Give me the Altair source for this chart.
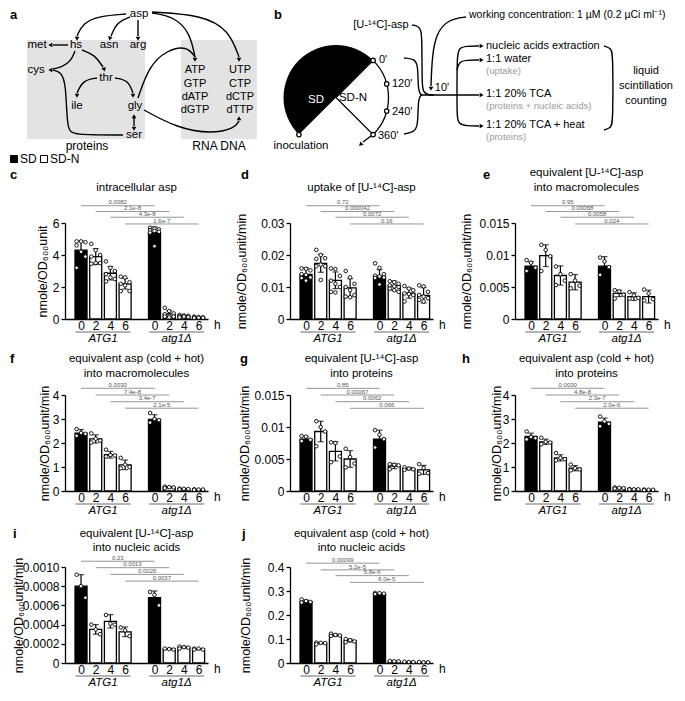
import altair as alt
import pandas as pd

FONT = "Liberation Sans"
W, H = 143, 96
XMIN, XMAX = -0.75, 8.3
GAP_COL, GAP_ROW = 82, 76
C_LEFT, C_TOP = 55, 214

# ---------------- data ----------------
times = [0, 2, 4, 6]
strains = ["ATG1", "atg1Δ"]
media = ["SD", "SD-N", "SD-N", "SD-N"]

c_mean = [4.3, 3.9, 2.86, 2.2, 5.4, 0.32, 0.18, 0.1]
c_sd = [0.56, 0.5, 0.42, 0.33, 0.36, 0.2, 0.05, 0.03]
c_pts = [[4.85, 4.85, 4.8, 4.6, 4.2, 3.9, 3.2], [4.7, 4.3, 4.0, 3.9, 3.5, 3.5, 3.45],
         [3.6, 3.2, 3.0, 2.8, 2.6, 2.5, 2.35], [2.65, 2.6, 2.3, 2.2, 2.1, 1.75, 1.75],
         [5.7, 5.65, 5.6, 5.55, 5.5, 5.45, 5.4, 4.55], [0.7, 0.5, 0.35, 0.3, 0.2, 0.15, 0.15, 0.1],
         [0.25, 0.22, 0.2, 0.18, 0.15, 0.12, 0.1], [0.15, 0.12, 0.1, 0.1, 0.08, 0.08, 0.07]]
c_p = ["0.0082", "2.1e-8", "4.3e-8", "1.6e-7"]
c_lvl = [7.08, 6.72, 6.36, 5.94]

d_mean = [0.0139, 0.0174, 0.0121, 0.0097, 0.0134, 0.0104, 0.0081, 0.0074]
d_sd = [0.0021, 0.0028, 0.0026, 0.0029, 0.002, 0.0015, 0.0016, 0.0024]
d_pts = [[0.0158, 0.0157, 0.0152, 0.0140, 0.0138, 0.0130, 0.0128, 0.0120],
         [0.0216, 0.0200, 0.0190, 0.0188, 0.0170, 0.0165, 0.0165, 0.0122],
         [0.0158, 0.0156, 0.0135, 0.0120, 0.0110, 0.0100, 0.0085, 0.0083],
         [0.0150, 0.0130, 0.0110, 0.0100, 0.0090, 0.0075, 0.0070, 0.0068],
         [0.0174, 0.0160, 0.0140, 0.0135, 0.0133, 0.0130, 0.0128, 0.0108],
         [0.0118, 0.0115, 0.0110, 0.0105, 0.0102, 0.0100, 0.0095, 0.0090, 0.0085],
         [0.0103, 0.0095, 0.0090, 0.0080, 0.0078, 0.0075, 0.0055],
         [0.0105, 0.0102, 0.0085, 0.0075, 0.0070, 0.0065, 0.0060, 0.0055]]
d_p = ["0.72", "0.000042", "0.0072", "0.16"]
d_lvl = [0.0354, 0.0336, 0.0318, 0.0297]

e_mean = [0.00825, 0.0099, 0.0068, 0.00575, 0.00825, 0.004, 0.0035, 0.0035]
e_sd = [0.0007, 0.0017, 0.0015, 0.0012, 0.0015, 0.0005, 0.0006, 0.001]
e_pts = [[0.0092, 0.0088, 0.0080, 0.0075], [0.0116, 0.0108, 0.0098, 0.0075],
         [0.0082, 0.0070, 0.0060, 0.0053], [0.0070, 0.0060, 0.0052, 0.0048],
         [0.0096, 0.0090, 0.0081, 0.0069], [0.0045, 0.0043, 0.0038, 0.0032],
         [0.0042, 0.0037, 0.0033, 0.0032], [0.0046, 0.0040, 0.0031, 0.0029]]
e_p = ["0.95", "0.00068", "0.0058", "0.024"]
e_lvl = [0.0177, 0.0168, 0.0159, 0.01485]

f_mean = [2.41, 2.17, 1.51, 1.09, 2.98, 0.15, 0.08, 0.06]
f_sd = [0.15, 0.17, 0.14, 0.2, 0.2, 0.03, 0.015, 0.01]
f_pts = [[2.58, 2.42, 2.38, 2.3], [2.4, 2.18, 2.1, 2.02], [1.72, 1.5, 1.48, 1.44], [1.38, 1.1, 1.0, 0.95],
         [3.25, 3.0, 2.95, 2.85], [0.18, 0.16, 0.15, 0.12], [0.1, 0.09, 0.08, 0.07], [0.07, 0.06, 0.06, 0.05]]
f_p = ["0.0030", "7.4e-8", "3.4e-7", "2.1e-5"]
f_lvl = [4.28, 4.0, 3.72, 3.45]

g_mean = [0.0081, 0.0093, 0.0062, 0.005, 0.0081, 0.0039, 0.0035, 0.0033]
g_sd = [0.0004, 0.0016, 0.0015, 0.0013, 0.0014, 0.0004, 0.0002, 0.0007]
g_pts = [[0.0086, 0.0085, 0.0080, 0.0078], [0.0109, 0.0100, 0.0093, 0.0070],
         [0.0076, 0.0075, 0.0054, 0.0045], [0.0066, 0.0053, 0.0043, 0.0037],
         [0.0095, 0.0088, 0.0081, 0.0068], [0.0042, 0.0041, 0.0040, 0.0034],
         [0.0037, 0.0035, 0.0034, 0.0033], [0.0042, 0.0036, 0.0028, 0.0027]]
g_p = ["0.85", "0.00067", "0.0062", "0.066"]
g_lvl = [0.01604, 0.015, 0.01396, 0.01292]

h_mean = [2.27, 2.05, 1.38, 0.95, 2.87, 0.12, 0.07, 0.05]
h_sd = [0.14, 0.11, 0.13, 0.11, 0.17, 0.02, 0.01, 0.01]
h_pts = [[2.48, 2.25, 2.2, 2.15], [2.22, 2.05, 2.02, 1.95], [1.58, 1.38, 1.33, 1.28], [1.1, 0.95, 0.9, 0.86],
         [3.1, 2.9, 2.8, 2.7], [0.15, 0.13, 0.12, 0.1], [0.08, 0.07, 0.07, 0.06], [0.06, 0.05, 0.05, 0.04]]
h_p = ["0.0030", "4.8e-8", "2.3e-7", "2.0e-6"]
h_lvl = [4.28, 4.0, 3.72, 3.45]

i_mean = [0.0008, 0.00035, 0.000434, 0.000325, 0.00068, 0.000146, 0.000163, 0.000145]
i_sd = [0.00012, 0.00005, 0.00007, 0.00005, 0.00007, 0.000006, 0.00001, 0.000006]
i_pts = [[0.00092, 0.00080, 0.00068], [0.00040, 0.00035, 0.00030], [0.00050, 0.00041, 0.00040],
         [0.00037, 0.00034, 0.00028], [0.00074, 0.00071, 0.00060], [0.000150, 0.000145, 0.000140],
         [0.00017, 0.000165, 0.00016, 0.00015], [0.00015, 0.00015, 0.00014, 0.00014]]
i_p = ["0.23", "0.0013", "0.0026", "0.0037"]
i_lvl = [0.00106, 0.000993, 0.000923, 0.000853]

j_mean = [0.256, 0.0827, 0.116, 0.0933, 0.289, 0.007, 0.004, 0.003]
j_sd = [0.006, 0.003, 0.004, 0.006, 0.002, 0.001, 0.001, 0.001]
j_pts = [[0.265, 0.258, 0.254, 0.252], [0.085, 0.084, 0.083, 0.078], [0.122, 0.117, 0.115, 0.113],
         [0.100, 0.095, 0.090, 0.087], [0.292, 0.291, 0.289, 0.287], [0.008, 0.007, 0.007],
         [0.005, 0.004, 0.004], [0.004, 0.003, 0.003]]
j_p = ["0.00099", "5.2e-5", "5.8e-6", "6.0e-5"]
j_lvl = [0.416, 0.388, 0.364, 0.336]

YL1 = "nmole/OD₆₀₀unit"
YL2 = "nmole/OD₆₀₀unit/min"
T_U = "equivalent [U-¹⁴C]-asp"
T_C = "equivalent asp (cold + hot)"

panels = [
    dict(k="c", mean=c_mean, sd=c_sd, pts=c_pts, p=c_p, lvl=c_lvl, ymax=6, ticks=[0, 2, 4, 6], fmt="~g",
         ylab=YL1, title=["intracellular asp"]),
    dict(k="d", mean=d_mean, sd=d_sd, pts=d_pts, p=d_p, lvl=d_lvl, ymax=0.03, ticks=[0, 0.01, 0.02, 0.03], fmt="~g",
         ylab=YL2, title=["uptake of [U-¹⁴C]-asp"]),
    dict(k="e", mean=e_mean, sd=e_sd, pts=e_pts, p=e_p, lvl=e_lvl, ymax=0.015, ticks=[0, 0.005, 0.01, 0.015], fmt="~g",
         ylab=YL2, title=[T_U, "into macromolecules"]),
    dict(k="f", mean=f_mean, sd=f_sd, pts=f_pts, p=f_p, lvl=f_lvl, ymax=4, ticks=[0, 1, 2, 3, 4], fmt="~g",
         ylab=YL2, title=[T_C, "into macromolecules"]),
    dict(k="g", mean=g_mean, sd=g_sd, pts=g_pts, p=g_p, lvl=g_lvl, ymax=0.015, ticks=[0, 0.005, 0.01, 0.015], fmt="~g",
         ylab=YL2, title=[T_U, "into proteins"]),
    dict(k="h", mean=h_mean, sd=h_sd, pts=h_pts, p=h_p, lvl=h_lvl, ymax=4, ticks=[0, 1, 2, 3, 4], fmt="~g",
         ylab=YL2, title=[T_C, "into proteins"]),
    dict(k="i", mean=i_mean, sd=i_sd, pts=i_pts, p=i_p, lvl=i_lvl, ymax=0.001,
         ticks=[0, 0.0002, 0.0004, 0.0006, 0.0008, 0.001], fmt=".4f",
         ylab=YL2, title=[T_U, "into nucleic acids"]),
    dict(k="j", mean=j_mean, sd=j_sd, pts=j_pts, p=j_p, lvl=j_lvl, ymax=0.4, ticks=[0, 0.1, 0.2, 0.3, 0.4], fmt="~g",
         ylab=YL2, title=[T_C, "into nucleic acids"]),
]

# layout of annotations per panel (pixels relative to plot area)
letter_x = {"c": -55, "d": -49, "e": -32, "f": -55, "g": -50, "h": -53, "i": -52, "j": -48}
row_of = {"c": 0, "d": 0, "e": 0, "f": 1, "g": 1, "h": 1, "i": 2, "j": 2}
letter_y = [-48, -36, -33]
title_y1 = [[-35], [-36], [-33]]
title_y2 = [[-50, -35], [-36, -21], [-33, -19]]
ytitle_x = {"c": -16, "d": -42, "e": -42, "f": -14, "g": -39, "h": -12, "i": -40, "j": -38}

# ---------------- panel construction ----------------
def bar_pos(idx):
    return (idx // 4) * 5 + idx % 4

XS = alt.Scale(domain=[XMIN, XMAX], nice=False, zero=False)
XAX = alt.Axis(values=[0, 1, 2, 3, 5, 6, 7, 8],
               labelExpr="datum.value < 4 ? '' + datum.value * 2 : '' + (datum.value - 5) * 2",
               title=None, ticks=False, tickSize=0, grid=False, labelFontSize=12, labelPadding=1,
               labelFlush=False, labelOverlap=False, labelColor="black", domainColor="black", domainWidth=1.3)


def X(f):
    return alt.X(f, type="quantitative", scale=XS, axis=XAX)


def make_panel(p):
    k = p["k"]
    ys = alt.Scale(domain=[0, p["ymax"]], nice=False, zero=True)
    yax = alt.Axis(values=p["ticks"],
                   labelExpr="datum.value == 0 ? '0' : format(datum.value, '%s')" % p["fmt"],
                   title=p["ylab"], titleX=ytitle_x[k], titleY=H / 2, titleBaseline="bottom",
                   titleFontSize=12.5, titleFontWeight="normal", titleColor="black",
                   labelFontSize=12, labelColor="black", labelFlush=False, labelOverlap=False,
                   tickSize=4, tickWidth=1.3, tickColor="black", labelPadding=2,
                   domainColor="black", domainWidth=1.3, grid=False)

    def Y(f):
        return alt.Y(f, type="quantitative", scale=ys, axis=yax)

    bdf = pd.DataFrame({
        "pos": [bar_pos(i) for i in range(8)],
        "mean": p["mean"], "sd": p["sd"],
        "medium": media * 2,
    })
    rows = []
    for i, lst in enumerate(p["pts"]):
        for v in lst:
            rows.append({"pos": bar_pos(i), "v": v})
    pdf = pd.DataFrame(rows)
    brdf = pd.DataFrame({"x0": [bar_pos(i) for i in range(4)], "x1": [bar_pos(i + 4) for i in range(4)],
                         "lvl": p["lvl"], "pv": p["p"]})
    gdf = pd.DataFrame({"g": strains, "x0": [-0.38, 4.62], "x1": [3.38, 8.38], "xm": [1.5, 6.5]})

    bars = alt.Chart(bdf).mark_bar(size=12, stroke="black", strokeWidth=1.3, orient="vertical").encode(
        x=X("pos"), y=Y("mean"),
        fill=alt.Fill("medium:N", scale=alt.Scale(domain=["SD", "SD-N"], range=["black", "white"]), legend=None))
    ebase = alt.Chart(bdf).transform_calculate(lo="datum.mean - datum.sd", hi="datum.mean + datum.sd")
    err = ebase.mark_rule(color="black", strokeWidth=1.2).encode(x=X("pos"), y=Y("lo"), y2=alt.Y2("hi"))
    cap_hi = ebase.mark_tick(orient="horizontal", size=6, thickness=1.2, color="black").encode(x=X("pos"), y=Y("hi"))
    cap_lo = ebase.mark_tick(orient="horizontal", size=6, thickness=1.2, color="black").encode(x=X("pos"), y=Y("lo"))
    pts = alt.Chart(pdf).transform_window(
        rn="row_number()", groupby=["pos"], sort=[alt.SortField("v", order="descending")]
    ).transform_calculate(px="datum.pos + ((datum.rn - 1) % 3 - 1) * 0.3").mark_circle(
        size=13, fill="white", stroke="black", strokeWidth=0.9, opacity=1).encode(x=X("px"), y=Y("v"))
    brk = alt.Chart(brdf).mark_rule(color="#8a8a8a", strokeWidth=0.9).encode(
        x=X("x0"), x2=alt.X2("x1"), y=Y("lvl"))
    ptxt = alt.Chart(brdf).transform_calculate(xm="(datum.x0 + datum.x1) / 2").mark_text(
        fontSize=6, color="#555555", baseline="bottom", dy=-0.3).encode(x=X("xm"), y=Y("lvl"), text="pv:N")
    uline = alt.Chart(gdf).mark_rule(color="#6a6a6a", strokeWidth=1).encode(
        x=X("x0"), x2=alt.X2("x1"), y=alt.value(H + 13))
    glab = alt.Chart(gdf).mark_text(fontSize=11.5, fontStyle="italic", baseline="middle", color="black").encode(
        x=X("xm"), y=alt.value(H + 20), text="g:N")
    hlab = alt.Chart(pd.DataFrame({"t": ["h"]})).mark_text(
        fontSize=12, align="left", baseline="top", color="black").encode(
        x=alt.value(W + 6), y=alt.value(H + 1), text="t:N")
    r = row_of[k]
    letter = alt.Chart(pd.DataFrame({"t": [k]})).mark_text(
        fontSize=13, fontWeight="bold", align="left", baseline="middle", color="black").encode(
        x=alt.value(letter_x[k]), y=alt.value(letter_y[r]), text="t:N")
    tys = title_y1[r] if len(p["title"]) == 1 else title_y2[r]
    tlayers = []
    for line, ty in zip(p["title"], tys):
        tlayers.append(alt.Chart(pd.DataFrame({"t": [line]})).mark_text(
            fontSize=11.5, align="center", baseline="middle", color="black").encode(
            x=alt.value(W / 2), y=alt.value(ty), text="t:N"))
    return alt.layer(bars, err, cap_hi, cap_lo, pts, brk, ptxt, uline, glab, hlab, letter, *tlayers)


# ---------------- schematic panels a and b (svg coordinates) ----------------
DXS = alt.Scale(domain=[C_LEFT, C_LEFT + W], nice=False, zero=False)
DYS = alt.Scale(domain=[C_TOP, C_TOP + H], nice=False, zero=False, reverse=True)


def DX(f):
    return alt.X(f, type="quantitative", scale=DXS, axis=None)


def DY(f):
    return alt.Y(f, type="quantitative", scale=DYS, axis=None)


a_nodes = ["asp", "met", "hs", "asn", "arg", "cys", "thr", "ile", "gly", "ser"]
a_node_x = [129, 27, 66, 99, 128, 26, 96, 67, 125, 124]
a_node_y = [5, 36, 36, 36, 36, 61, 69, 97, 97, 126]
nt_left = ["ATP", "GTP", "dATP", "dGTP"]
nt_right = ["UTP", "CTP", "dCTP", "dTTP"]
nt_y = [61, 75, 88, 101]
box_names = ["proteins", "RNA DNA"]

a_paths = {
    "asp-hs": [(116, 5), (89, 7), (73, 14), (67, 27)],
    "asp-asn": [(120, 8), (107, 13), (101, 27)],
    "asp-arg": [(128, 11), (128, 27)],
    "asp-atp": [(142, 4), (165, 8), (180, 24), (185, 48)],
    "asp-utp": [(142, 3), (192, 6), (219, 21), (229, 48)],
    "hs-met": [(58, 36), (43, 36)],
    "hs-cys": [(65, 42), (61, 52), (52, 58), (43, 60)],
    "hs-thr": [(72, 41), (85, 46), (93, 58)],
    "thr-ile": [(87, 69), (73, 71), (67, 84)],
    "thr-gly": [(105, 69), (118, 71), (123, 84)],
    "gly-atp": [(128, 89), (139, 57), (157, 41), (177, 37), (185, 48)],
    "gly-dttp": [(134, 101), (167, 119), (202, 125), (225, 119), (229, 112)],
    "gly-ser": [(124, 109), (124, 117)],
    "ser-cys": [(113, 126), (63, 126), (57, 121), (56, 74), (51, 63), (43, 61)],
}
a_heads = [(67, 29, 180), (100, 29, 195), (128, 29, 180), (185, 50, 180), (229, 50, 180), (41, 36, 270),
           (41, 61, 270), (94, 60, 160), (67, 86, 180), (123, 86, 180), (229, 110, 0), (124, 108, 0),
           (124, 119, 180)]

b_paths = {
    "uasp": [(402, 16), (408, 17), (411, 21), (412, 30), (412, 75), (413, 83), (418, 86), (424, 86)],
    "main": [(412, 86), (469, 86)],
    "brace1": [(394, 49), (404, 50), (408, 55), (408, 79), (410, 85), (412, 86)],
    "brace2": [(412, 86), (410, 87), (408, 93), (408, 117), (404, 123), (394, 125)],
    "wc": [(456, 8), (439, 10), (426, 24), (422, 49), (421, 77)],
    "top": [(447, 86), (447, 47), (449, 39), (456, 37), (469, 37)],
    "water": [(447, 61), (449, 53), (456, 51), (469, 51)],
    "bot": [(447, 86), (447, 109), (449, 115), (456, 117), (469, 117)],
    "rbrace": [(594, 37), (601, 39), (603, 45), (603, 113), (601, 119), (594, 121)],
    "after": [(361, 127), (353, 133)],
}
b_heads = [(471, 86, 90), (421, 79, 180), (471, 37, 90), (471, 51, 90), (471, 117, 90), (351, 135, 225)]

pie_center = (326, 88.5)
pie_marks_x = [363.1, 376.7, 376.7, 363.1, 288.9]
pie_marks_y = [51.4, 74.9, 102.1, 125.6, 125.6]
time_labels = ["0'", "120'", "240'", "360'"]
time_lab_x = [369, 382, 382, 368]
time_lab_y = [51, 75, 103, 127]
out_black = ["nucleic acids extraction", "1:1 water", "1:1 20% TCA", "1:1 20% TCA + heat"]
out_black_y = [37, 50, 85, 116]
out_gray = ["(uptake)", "(proteins + nucleic acids)", "(proteins)"]
out_gray_y = [62, 97, 128]
lsc = ["liquid", "scintillation", "counting"]
lsc_y = [62, 77, 92]

line_rows = []
for name, pts_ in list(a_paths.items()) + list(b_paths.items()):
    for kk, (xx, yy) in enumerate(pts_):
        line_rows.append({"id": name, "k": kk, "x": xx, "y": yy})
lines_df = pd.DataFrame(line_rows)
heads_df = pd.DataFrame([{"x": h[0], "y": h[1], "ang": h[2]} for h in a_heads + b_heads])

ctext = []  # centered normal texts
for t, xx, yy in zip(a_nodes, a_node_x, a_node_y):
    ctext.append({"t": t, "x": xx, "y": yy, "fs": 11.5, "col": "black"})
for t, yy in zip(nt_left, nt_y):
    ctext.append({"t": t, "x": 185, "y": yy, "fs": 11, "col": "black"})
for t, yy in zip(nt_right, nt_y):
    ctext.append({"t": t, "x": 230, "y": yy, "fs": 11, "col": "black"})
for t, xx in zip(box_names, [77, 209]):
    ctext.append({"t": t, "x": xx, "y": 137, "fs": 12, "col": "black"})
ctext.append({"t": "[U-¹⁴C]-asp", "x": 371, "y": 16, "fs": 11, "col": "black"})
ctext.append({"t": "10'", "x": 432, "y": 79, "fs": 11, "col": "black"})
ctext.append({"t": "SD-N", "x": 343, "y": 89, "fs": 11.5, "col": "black"})
ctext.append({"t": "SD", "x": 306, "y": 91, "fs": 11.5, "col": "white"})
ctext.append({"t": "inoculation", "x": 291, "y": 137, "fs": 11.5, "col": "black"})
for t, yy in zip(lsc, lsc_y):
    ctext.append({"t": t, "x": 636, "y": yy, "fs": 11, "col": "black"})
ctext_df = pd.DataFrame(ctext)

ltext = []  # left aligned texts
for t, xx, yy in zip(time_labels, time_lab_x, time_lab_y):
    ltext.append({"t": t, "x": xx, "y": yy, "fs": 11, "col": "black"})
for t, yy in zip(out_black, out_black_y):
    ltext.append({"t": t, "x": 476, "y": yy, "fs": 11, "col": "black"})
for t, yy in zip(out_gray, out_gray_y):
    ltext.append({"t": t, "x": 476, "y": yy, "fs": 9.5, "col": "#9a9a9a"})
ltext.append({"t": "working concentration: 1 µM (0.2 µCi ml⁻¹)", "x": 459, "y": 6, "fs": 10.5, "col": "black"})
ltext.append({"t": "SD", "x": 10, "y": 150, "fs": 12, "col": "black"})
ltext.append({"t": "SD-N", "x": 40, "y": 150, "fs": 12, "col": "black"})
ltext_df = pd.DataFrame(ltext)

letters_df = pd.DataFrame({"t": ["a", "b"], "x": [0, 264], "y": [6, 6]})
boxes_df = pd.DataFrame({"x0": [17, 171], "x1": [135, 247], "y0": [31, 31], "y1": [130, 130]})
legend_df = pd.DataFrame({"x": [4, 34], "y": [150, 150], "c": ["black", "white"]})
pie_df = pd.DataFrame({"x": [pie_center[0]], "y": [pie_center[1]]})
marks_df = pd.DataFrame({"x": pie_marks_x, "y": pie_marks_y})

boxes = alt.Chart(boxes_df).mark_rect(fill="#e3e3e3").encode(
    x=DX("x0"), x2=alt.X2("x1"), y=DY("y0"), y2=alt.Y2("y1"))
lines = alt.Chart(lines_df).mark_line(color="black", strokeWidth=1.4, interpolate="basis").encode(
    x=DX("x"), y=DY("y"), detail="id:N", order="k:Q")
heads = alt.Chart(heads_df).mark_point(shape="triangle", filled=True, color="black", size=22, opacity=1).encode(
    x=DX("x"), y=DY("y"), angle=alt.Angle("ang:Q", scale=None))
sd_arc = alt.Chart(pie_df).mark_arc(theta=3.927, theta2=7.069, radius=52.5, fill="black").encode(
    x=DX("x"), y=DY("y"))
sdn_arc = alt.Chart(pie_df).mark_arc(theta=0.785, theta2=2.356, radius=52.5, fill="white",
                                     stroke="black", strokeWidth=1.3).encode(x=DX("x"), y=DY("y"))
pie_marks = alt.Chart(marks_df).mark_circle(size=20, fill="white", stroke="black", strokeWidth=1.2,
                                            opacity=1).encode(x=DX("x"), y=DY("y"))
ctexts = alt.Chart(ctext_df).mark_text(align="center", baseline="middle").encode(
    x=DX("x"), y=DY("y"), text="t:N", size=alt.Size("fs:Q", scale=None), color=alt.Color("col:N", scale=None))
ltexts = alt.Chart(ltext_df).mark_text(align="left", baseline="middle").encode(
    x=DX("x"), y=DY("y"), text="t:N", size=alt.Size("fs:Q", scale=None), color=alt.Color("col:N", scale=None))
letters = alt.Chart(letters_df).mark_text(align="left", baseline="middle", fontSize=13, fontWeight="bold",
                                          color="black").encode(x=DX("x"), y=DY("y"), text="t:N")
legend_sq = alt.Chart(legend_df).mark_point(shape="square", size=50, filled=True, stroke="black",
                                            strokeWidth=1, opacity=1).encode(
    x=DX("x"), y=DY("y"), fill=alt.Fill("c:N", scale=None))

diagram = alt.layer(boxes, sd_arc, sdn_arc, lines, heads, pie_marks, ctexts, ltexts, letters, legend_sq)

cells = []
for p in panels:
    lay = make_panel(p)
    if p["k"] == "c":
        lay = alt.layer(lay, diagram).resolve_scale(x="independent", y="independent")
    cells.append(lay.properties(width=W, height=H))

chart = alt.concat(*cells, columns=3, spacing={"row": GAP_ROW, "column": GAP_COL}, bounds="flush").properties(
    padding=0
).configure(font=FONT).configure_view(stroke=None)

chart.save("out.html", embed_options={"renderer": "svg", "actions": False})
